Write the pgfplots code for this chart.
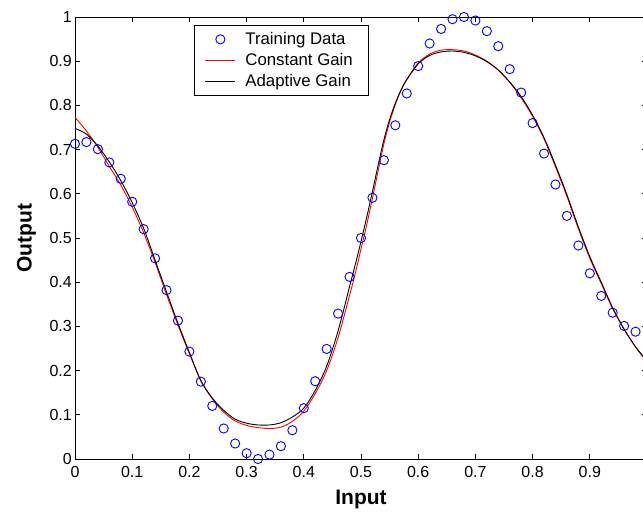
\documentclass[border=0pt]{standalone}
\usepackage{fontspec}
\setmainfont{Liberation Sans}
\usepackage{pgfplots}
\pgfplotsset{compat=1.18}
\usetikzlibrary{calc}
\definecolor{mblue}{RGB}{0,0,255}

\pgfplotsset{
    linelegend/.style={legend image code/.code={\path[draw=none,fill=none] (0pt,0pt) -- (51pt,0pt); \draw[##1] (11pt,0pt) -- (41pt,0pt);}},
    marklegend/.style={legend image code/.code={\path[draw=none,fill=none] (0pt,0pt) -- (51pt,0pt); \draw[mark repeat=2,mark phase=2,##1] plot coordinates {(11pt,0pt)(26pt,0pt)(41pt,0pt)};}},
}

\begin{document}
\begin{tikzpicture}
\begin{axis}[
    scale only axis,
    width=572pt, height=442pt,
    xmin=0, xmax=1, ymin=0, ymax=1,
    clip=false,
    xtick={0,0.1,0.2,0.3,0.4,0.5,0.6,0.7,0.8,0.9},
    ytick={0,0.1,0.2,0.3,0.4,0.5,0.6,0.7,0.8,0.9,1},
    tick align=inside,
    major tick length=5pt,
    axis line style={line width=0.8pt},
    tick style={line width=0.8pt, black},
    ticklabel style={font=\fontsize{16}{19}\selectfont},
    /pgf/number format/assume math mode=true,
    xticklabel style={inner ysep=7pt},
    yticklabel style={inner xsep=3pt},
    xlabel={\bfseries Input},
    ylabel={\bfseries Output},
    every axis x label/.style={at={(axis description cs:0.5,-0.0701)}, anchor=north, inner sep=0pt, font=\fontsize{21}{24}\selectfont},
    every axis y label/.style={at={(axis description cs:-0.068,0.5)}, rotate=90, anchor=south, inner sep=0pt, font=\fontsize{21}{24}\selectfont},
    legend style={at={(0.208,0.982)}, anchor=north west, draw=black, line width=0.8pt,
        font=\fontsize{16.8}{20}\selectfont, inner xsep=0pt, inner ysep=3.5pt, row sep=0pt, column sep=0pt,
        nodes={inner xsep=0pt, inner ysep=0pt, minimum height=21pt}},
    legend cell align=left,
    linelegend,
]
\coordinate (O) at (rel axis cs:0,0);

% training data
\addplot[only marks, mark=o, mark size=4.6pt, mblue, line width=0.9pt, marklegend]
coordinates {
(0.00,0.713) (0.02,0.717) (0.04,0.701) (0.06,0.671) (0.08,0.634)
(0.10,0.582) (0.12,0.520) (0.14,0.454) (0.16,0.382) (0.18,0.313)
(0.20,0.243) (0.22,0.175) (0.24,0.120) (0.26,0.069) (0.28,0.035)
(0.30,0.013) (0.32,0.000) (0.34,0.010) (0.36,0.029) (0.38,0.065)
(0.40,0.115) (0.42,0.176) (0.44,0.249) (0.46,0.329) (0.48,0.412)
(0.50,0.500) (0.52,0.591) (0.54,0.676) (0.56,0.755) (0.58,0.827)
(0.60,0.889) (0.62,0.940) (0.64,0.973) (0.66,0.995) (0.68,1.000)
(0.70,0.992) (0.72,0.968) (0.74,0.934) (0.76,0.882) (0.78,0.829)
(0.80,0.760) (0.82,0.691) (0.84,0.621) (0.86,0.550) (0.88,0.483)
(0.90,0.420) (0.92,0.369) (0.94,0.331) (0.96,0.301) (0.98,0.288)
};
\addlegendentry{Training Data\kern23pt}

% constant gain
\addplot[red, line width=0.9pt, smooth] coordinates {
(0.00,0.773) (0.02,0.742) (0.04,0.705) (0.06,0.662) (0.08,0.620)
(0.10,0.570) (0.12,0.512) (0.14,0.445) (0.16,0.372) (0.18,0.303)
(0.20,0.238) (0.22,0.178) (0.24,0.136) (0.26,0.106) (0.28,0.086)
(0.30,0.076) (0.32,0.071) (0.34,0.069) (0.36,0.072) (0.38,0.085)
(0.40,0.108) (0.42,0.148) (0.44,0.200) (0.46,0.275) (0.48,0.370)
(0.49,0.420) (0.50,0.475) (0.51,0.530) (0.52,0.590) (0.53,0.652)
(0.54,0.713) (0.55,0.762) (0.56,0.802) (0.57,0.834) (0.58,0.859)
(0.60,0.896) (0.62,0.916) (0.64,0.925) (0.66,0.926) (0.68,0.923)
(0.70,0.914) (0.72,0.900) (0.74,0.880) (0.76,0.852) (0.78,0.817)
(0.80,0.775) (0.82,0.724) (0.84,0.661) (0.86,0.594) (0.88,0.521)
(0.90,0.454) (0.92,0.397) (0.94,0.340) (0.96,0.293) (0.98,0.253)
(1.00,0.220)
};
\addlegendentry{Constant Gain}

% adaptive gain
\addplot[black, line width=0.9pt, smooth] coordinates {
(0.00,0.748) (0.02,0.735) (0.04,0.708) (0.06,0.672) (0.08,0.630)
(0.10,0.580) (0.12,0.522) (0.14,0.450) (0.16,0.378) (0.18,0.307)
(0.20,0.241) (0.22,0.177) (0.24,0.138) (0.26,0.110) (0.28,0.090)
(0.30,0.081) (0.32,0.077) (0.34,0.077) (0.36,0.082) (0.38,0.095)
(0.40,0.115) (0.42,0.155) (0.44,0.210) (0.46,0.290) (0.48,0.390)
(0.49,0.440) (0.50,0.492) (0.51,0.547) (0.52,0.605) (0.53,0.665)
(0.54,0.722) (0.55,0.768) (0.56,0.805) (0.57,0.835) (0.58,0.858)
(0.60,0.894) (0.62,0.913) (0.64,0.921) (0.66,0.923) (0.68,0.920)
(0.70,0.912) (0.72,0.899) (0.74,0.880) (0.76,0.853) (0.78,0.820)
(0.80,0.778) (0.82,0.727) (0.84,0.665) (0.86,0.598) (0.88,0.525)
(0.90,0.458) (0.92,0.400) (0.94,0.342) (0.96,0.294) (0.98,0.254)
(1.00,0.222)
};
\addlegendentry{Adaptive Gain}
\end{axis}
\pgfresetboundingbox
\path[use as bounding box] ($(O)+(-75pt,-54pt)$) rectangle ($(O)+(568pt,459pt)$);
\end{tikzpicture}
\end{document}
